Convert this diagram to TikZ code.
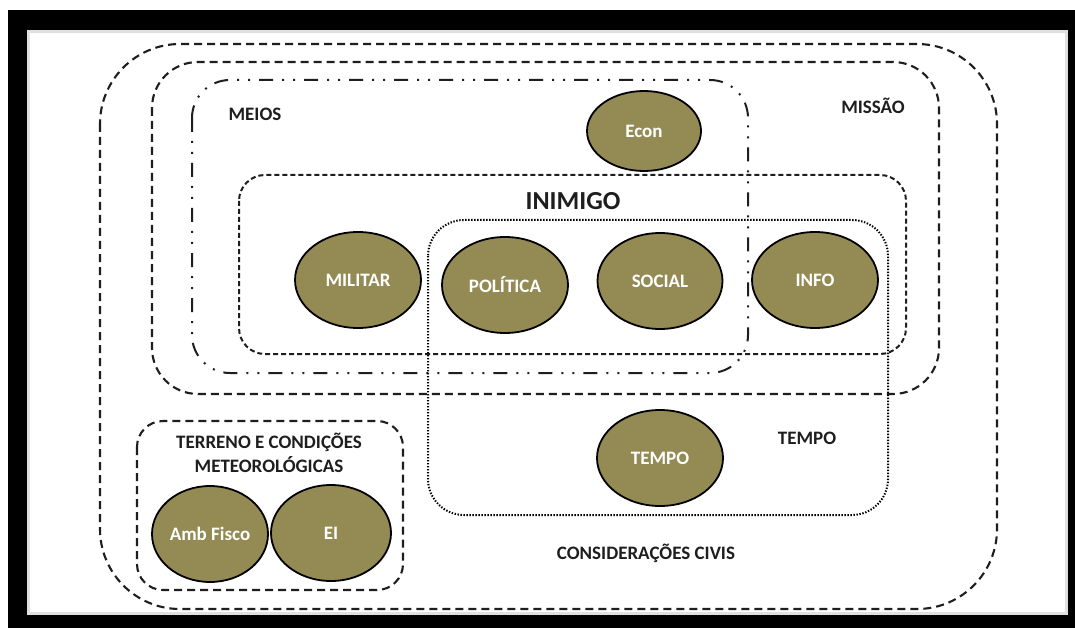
\documentclass[tikz,border=0pt]{standalone}
\usepackage{fontspec}
\setmainfont{Carlito}
\usetikzlibrary{shapes.geometric}
\definecolor{olivefill}{RGB}{148,138,84}
\definecolor{ink}{RGB}{30,30,30}
\begin{document}
\begin{tikzpicture}[x=1pt,y=-1pt,
  zonedash/.style={draw=ink, line width=2.1pt, dash pattern=on 8pt off 5pt},
  zonefine/.style={draw=ink, line width=2pt, dash pattern=on 5pt off 3pt},
  zonedashdot/.style={draw=ink, line width=2pt, dash pattern=on 14pt off 9pt on 2pt off 9pt on 2pt off 9pt},
  zonedot/.style={draw=black, line width=2pt, dash pattern=on 1.4pt off 1.6pt},
  sector/.style={ellipse, draw=black, line width=1.8pt, fill=olivefill, text=white, inner sep=0pt,
    minimum width=126pt, minimum height=96pt, font=\fontsize{19}{19}\selectfont\bfseries},
  lbl/.style={text=ink, inner sep=0pt, font=\fontsize{19}{24}\selectfont\bfseries}]
\fill[white] (0,0) rectangle (1075,628);
\fill[black] (8,10) rectangle (1075,628);
\fill[white] (27,30) rectangle (1068,615);
\draw[black!12, line width=3pt] (28.5,31.5) rectangle (1066.5,613.5);
\draw[zonedash, rounded corners=80pt] (100,44) rectangle (997,609);
\draw[zonedash, rounded corners=46pt] (152,62) rectangle (939,394);
\draw[zonedashdot, rounded corners=38pt] (192,80) rectangle (748,373);
\draw[zonefine, rounded corners=26pt] (239,175) rectangle (906,354);
\draw[zonedot, rounded corners=36pt] (428,220) rectangle (888,515);
\draw[zonedash, rounded corners=26pt] (137,421) rectangle (403,590);
\node[lbl] (meios) at (255,114) {MEIOS};
\node[lbl] (missao) at (873,106) {MISSÃO};
\node[lbl, font=\fontsize{26}{26}\selectfont\bfseries] (inimigo) at (573,201) {INIMIGO};
\node[lbl] (tempolbl) at (807,438) {TEMPO};
\node[lbl] (civis) at (646,553) {CONSIDERAÇÕES CIVIS};
\node[lbl, align=center] (terreno) at (269,453) {TERRENO E CONDIÇÕES\\METEOROLÓGICAS};
\node[sector, minimum width=114pt, minimum height=80pt] (econ) at (644,131) {Econ};
\node[sector] (militar) at (358,280) {MILITAR};
\node[sector] (politica) at (505,285) {POLÍTICA};
\node[sector, minimum width=125pt] (social) at (660,281) {SOCIAL};
\node[sector] (info) at (815,280) {INFO};
\node[sector] (tempo) at (660,458) {TEMPO};
\node[sector, minimum width=116pt] (amb) at (210,534) {Amb Fisco};
\node[sector, minimum width=120pt] (ei) at (331,533) {EI};
\end{tikzpicture}
\end{document}
